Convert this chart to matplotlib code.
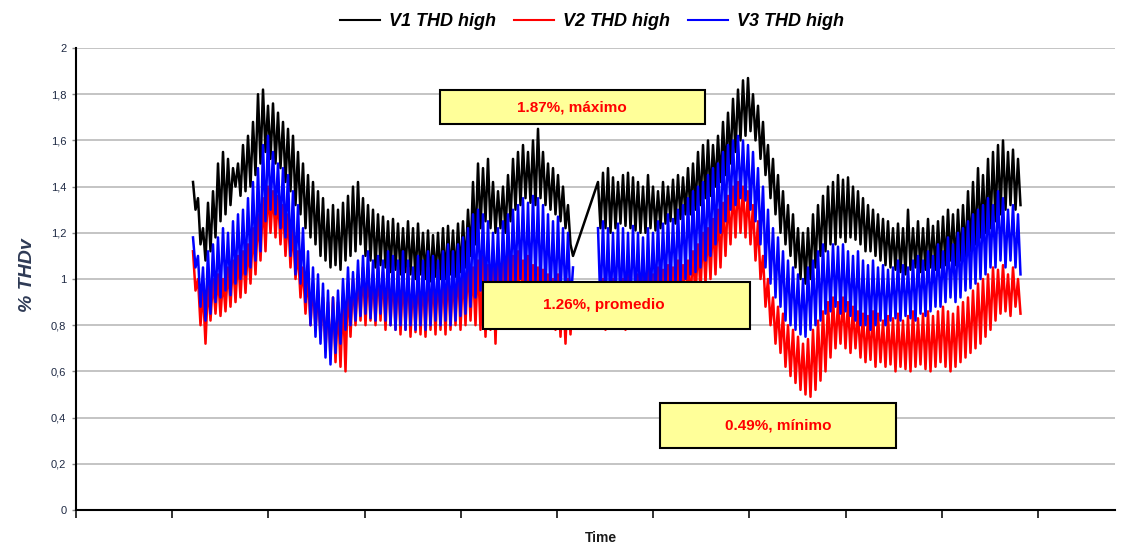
import numpy as np
import matplotlib
matplotlib.use("Agg")
import matplotlib.pyplot as plt
from matplotlib.patches import Rectangle

# ---- data: one reading every ~2.5 px of the time axis ----
nan = float("nan")
v1_thd = [1.42, 1.30, 1.35, 1.15, 1.22, 1.08, 1.33, 1.12, 1.38, 1.18,
          1.50, 1.25, 1.55, 1.28, 1.52, 1.32, 1.48, 1.40, 1.50, 1.36,
          1.58, 1.38, 1.62, 1.40, 1.68, 1.45, 1.80, 1.50, 1.82, 1.55,
          1.75, 1.52, 1.76, 1.50, 1.72, 1.48, 1.68, 1.42, 1.65, 1.38,
          1.62, 1.32, 1.55, 1.28, 1.50, 1.22, 1.45, 1.18, 1.42, 1.15,
          1.38, 1.10, 1.35, 1.08, 1.30, 1.05, 1.32, 1.06, 1.30, 1.04,
          1.33, 1.08, 1.36, 1.10, 1.40, 1.12, 1.42, 1.15, 1.35, 1.10,
          1.32, 1.08, 1.30, 1.05, 1.28, 1.06, 1.27, 1.05, 1.25, 1.03,
          1.26, 1.04, 1.24, 1.02, 1.22, 1.03, 1.25, 1.02, 1.22, 1.00,
          1.24, 1.02, 1.20, 1.00, 1.21, 0.99, 1.19, 1.01, 1.20, 1.00,
          1.22, 1.00, 1.23, 1.02, 1.21, 1.01, 1.24, 1.03, 1.25, 1.05,
          1.30, 1.10, 1.42, 1.15, 1.50, 1.22, 1.48, 1.25, 1.52, 1.22,
          1.42, 1.20, 1.38, 1.22, 1.40, 1.20, 1.45, 1.25, 1.52, 1.30,
          1.55, 1.32, 1.58, 1.35, 1.55, 1.33, 1.60, 1.32, 1.65, 1.35,
          1.55, 1.32, 1.50, 1.30, 1.48, 1.28, 1.45, 1.25, 1.40, 1.22,
          1.32, 1.15, 1.10, nan, nan, nan, nan, nan, nan, nan,
          nan, nan, 1.42, 1.22, 1.46, 1.22, 1.48, 1.20, 1.44, 1.22,
          1.42, 1.24, 1.45, 1.23, 1.46, 1.22, 1.44, 1.21, 1.42, 1.20,
          1.40, 1.20, 1.45, 1.22, 1.40, 1.21, 1.38, 1.22, 1.42, 1.24,
          1.40, 1.25, 1.43, 1.24, 1.45, 1.26, 1.44, 1.28, 1.48, 1.28,
          1.50, 1.30, 1.55, 1.32, 1.58, 1.35, 1.60, 1.36, 1.58, 1.40,
          1.62, 1.42, 1.68, 1.45, 1.72, 1.50, 1.78, 1.55, 1.82, 1.60,
          1.86, 1.62, 1.87, 1.64, 1.80, 1.60, 1.75, 1.52, 1.68, 1.45,
          1.58, 1.35, 1.52, 1.28, 1.45, 1.20, 1.38, 1.15, 1.32, 1.10,
          1.28, 1.05, 1.22, 1.00, 1.20, 0.98, 1.22, 1.00, 1.28, 1.05,
          1.32, 1.10, 1.36, 1.12, 1.40, 1.15, 1.42, 1.15, 1.45, 1.18,
          1.43, 1.16, 1.44, 1.18, 1.40, 1.17, 1.38, 1.15, 1.35, 1.12,
          1.32, 1.12, 1.30, 1.10, 1.28, 1.08, 1.26, 1.06, 1.25, 1.05,
          1.22, 1.04, 1.24, 1.03, 1.22, 1.02, 1.30, 1.04, 1.22, 1.05,
          1.25, 1.03, 1.22, 1.04, 1.26, 1.05, 1.23, 1.04, 1.25, 1.05,
          1.27, 1.06, 1.30, 1.08, 1.28, 1.06, 1.30, 1.08, 1.32, 1.10,
          1.38, 1.12, 1.42, 1.15, 1.48, 1.18, 1.45, 1.20, 1.52, 1.22,
          1.55, 1.25, 1.58, 1.28, 1.60, 1.30, 1.55, 1.32, 1.56, 1.30,
          1.52, 1.32]

v2_thd = [1.12, 0.95, 1.00, 0.80, 0.95, 0.72, 0.98, 0.82, 1.00, 0.85,
          1.02, 0.84, 1.00, 0.86, 1.05, 0.88, 1.08, 0.90, 1.10, 0.92,
          1.12, 0.94, 1.15, 0.98, 1.22, 1.02, 1.28, 1.08, 1.35, 1.12,
          1.40, 1.20, 1.38, 1.18, 1.36, 1.15, 1.32, 1.10, 1.28, 1.05,
          1.22, 1.00, 1.12, 0.92, 1.05, 0.85, 1.02, 0.80, 0.98, 0.78,
          0.95, 0.75, 0.92, 0.70, 0.90, 0.66, 0.92, 0.64, 0.90, 0.62,
          0.92, 0.60, 0.98, 0.75, 1.00, 0.80, 1.02, 0.82, 1.05, 0.80,
          1.04, 0.82, 1.02, 0.80, 1.05, 0.82, 1.03, 0.78, 1.05, 0.80,
          1.02, 0.78, 1.04, 0.76, 1.02, 0.78, 1.05, 0.75, 1.00, 0.77,
          1.03, 0.76, 1.02, 0.75, 1.05, 0.78, 1.02, 0.76, 1.04, 0.78,
          1.03, 0.76, 1.05, 0.78, 1.02, 0.80, 1.06, 0.78, 1.04, 0.80,
          1.08, 0.82, 1.05, 0.80, 1.08, 0.78, 1.10, 0.75, 1.06, 0.78,
          1.08, 0.72, 1.10, 0.80, 1.08, 0.82, 1.12, 0.80, 1.10, 0.82,
          1.12, 0.84, 1.08, 0.82, 1.10, 0.80, 1.06, 0.82, 1.05, 0.80,
          1.04, 0.82, 1.02, 0.80, 1.00, 0.78, 1.02, 0.75, 0.98, 0.72,
          1.00, 0.76, 0.95, nan, nan, nan, nan, nan, nan, nan,
          nan, nan, 0.98, 0.80, 1.00, 0.78, 0.98, 0.80, 1.00, 0.82,
          0.96, 0.80, 1.00, 0.78, 1.02, 0.80, 0.98, 0.82, 1.02, 0.80,
          1.04, 0.82, 1.05, 0.80, 1.02, 0.82, 1.05, 0.84, 1.04, 0.82,
          1.06, 0.85, 1.05, 0.86, 1.08, 0.85, 1.06, 0.88, 1.08, 0.90,
          1.12, 0.92, 1.15, 0.95, 1.20, 0.98, 1.22, 1.00, 1.26, 1.02,
          1.30, 1.05, 1.33, 1.10, 1.36, 1.15, 1.40, 1.18, 1.42, 1.20,
          1.40, 1.18, 1.38, 1.15, 1.32, 1.08, 1.25, 1.00, 1.10, 0.88,
          1.00, 0.80, 0.92, 0.72, 0.88, 0.68, 0.85, 0.62, 0.80, 0.58,
          0.78, 0.55, 0.75, 0.52, 0.72, 0.50, 0.74, 0.49, 0.78, 0.52,
          0.82, 0.56, 0.86, 0.60, 0.90, 0.66, 0.92, 0.70, 0.90, 0.72,
          0.92, 0.70, 0.90, 0.68, 0.88, 0.70, 0.86, 0.66, 0.85, 0.64,
          0.84, 0.65, 0.86, 0.62, 0.85, 0.64, 0.82, 0.62, 0.84, 0.63,
          0.83, 0.60, 0.85, 0.62, 0.82, 0.61, 0.84, 0.60, 0.86, 0.62,
          0.83, 0.63, 0.85, 0.61, 0.86, 0.60, 0.84, 0.62, 0.86, 0.64,
          0.88, 0.62, 0.86, 0.60, 0.85, 0.62, 0.88, 0.64, 0.90, 0.66,
          0.92, 0.68, 0.95, 0.70, 0.98, 0.72, 1.00, 0.75, 1.02, 0.78,
          1.05, 0.82, 1.04, 0.85, 1.06, 0.86, 1.02, 0.84, 1.05, 0.88,
          1.00, 0.85]

v3_thd = [1.18, 1.05, 1.10, 0.88, 1.05, 0.82, 1.12, 0.85, 1.15, 0.90,
          1.18, 0.92, 1.22, 0.95, 1.20, 0.93, 1.25, 0.98, 1.28, 1.00,
          1.30, 1.02, 1.35, 1.05, 1.42, 1.08, 1.48, 1.12, 1.58, 1.25,
          1.62, 1.30, 1.55, 1.28, 1.50, 1.22, 1.48, 1.18, 1.45, 1.10,
          1.38, 1.02, 1.32, 0.98, 1.22, 0.90, 1.12, 0.80, 1.05, 0.75,
          1.02, 0.72, 0.98, 0.66, 0.95, 0.63, 0.92, 0.68, 0.95, 0.72,
          1.00, 0.78, 1.05, 0.80, 1.03, 0.82, 1.08, 0.84, 1.10, 0.85,
          1.12, 0.83, 1.08, 0.82, 1.10, 0.85, 1.08, 0.82, 1.12, 0.80,
          1.10, 0.78, 1.08, 0.80, 1.12, 0.78, 1.08, 0.80, 1.05, 0.78,
          1.10, 0.80, 1.08, 0.78, 1.12, 0.80, 1.10, 0.82, 1.08, 0.80,
          1.12, 0.82, 1.15, 0.80, 1.12, 0.82, 1.15, 0.84, 1.18, 0.85,
          1.22, 0.88, 1.28, 0.92, 1.30, 0.95, 1.28, 0.92, 1.25, 0.90,
          1.20, 0.92, 1.22, 0.90, 1.25, 0.93, 1.28, 0.95, 1.30, 0.98,
          1.32, 1.00, 1.35, 0.98, 1.33, 0.96, 1.36, 0.98, 1.35, 0.95,
          1.32, 0.94, 1.28, 0.92, 1.25, 0.90, 1.27, 0.92, 1.22, 0.90,
          1.20, 0.88, 1.05, nan, nan, nan, nan, nan, nan, nan,
          nan, nan, 1.22, 0.88, 1.25, 0.86, 1.22, 0.85, 1.20, 0.88,
          1.24, 0.86, 1.22, 0.85, 1.20, 0.86, 1.23, 0.88, 1.20, 0.86,
          1.18, 0.85, 1.22, 0.88, 1.20, 0.90, 1.25, 0.92, 1.24, 0.95,
          1.28, 0.96, 1.26, 0.98, 1.30, 0.98, 1.32, 1.00, 1.35, 1.02,
          1.38, 1.03, 1.40, 1.05, 1.42, 1.08, 1.45, 1.10, 1.48, 1.15,
          1.50, 1.20, 1.55, 1.25, 1.58, 1.30, 1.60, 1.32, 1.62, 1.35,
          1.60, 1.34, 1.58, 1.30, 1.55, 1.25, 1.48, 1.15, 1.40, 1.05,
          1.30, 0.98, 1.22, 0.92, 1.18, 0.88, 1.12, 0.82, 1.08, 0.80,
          1.05, 0.78, 1.02, 0.76, 1.00, 0.75, 1.05, 0.78, 1.08, 0.80,
          1.12, 0.82, 1.15, 0.85, 1.12, 0.86, 1.15, 0.88, 1.14, 0.85,
          1.15, 0.86, 1.12, 0.84, 1.10, 0.82, 1.12, 0.80, 1.08, 0.80,
          1.06, 0.78, 1.08, 0.80, 1.05, 0.82, 1.06, 0.80, 1.04, 0.82,
          1.05, 0.83, 1.08, 0.82, 1.06, 0.84, 1.05, 0.83, 1.08, 0.82,
          1.10, 0.85, 1.08, 0.84, 1.12, 0.86, 1.10, 0.88, 1.15, 0.88,
          1.12, 0.90, 1.18, 0.92, 1.15, 0.90, 1.20, 0.92, 1.22, 0.95,
          1.25, 0.96, 1.28, 0.98, 1.30, 1.00, 1.32, 1.02, 1.35, 1.05,
          1.32, 1.05, 1.38, 1.08, 1.35, 1.05, 1.30, 1.08, 1.32, 1.05,
          1.28, 1.02]

series_names = ["V1 THD high", "V2 THD high", "V3 THD high"]
series_colors = ["#000000", "#FF0000", "#0000FF"]
y_ticks = [0, 0.2, 0.4, 0.6, 0.8, 1.0, 1.2, 1.4, 1.6, 1.8, 2.0]
y_tick_labels = ["0", "0,2", "0,4", "0,6", "0,8", "1", "1,2", "1,4", "1,6", "1,8", "2"]
notes = ["1.87%, máximo", "1.26%, promedio", "0.49%, mínimo"]

# ---- figure ----
W, H = 1130, 548
fig = plt.figure(figsize=(W / 100, H / 100), dpi=100)
plt.rcParams["font.family"] = ["Liberation Sans", "DejaVu Sans"]

def fx(px):
    return px / W

def fy(py):
    return 1 - py / H

ax = fig.add_axes([fx(76), fy(510), fx(1115) - fx(76), fy(48) - fy(510)])

t = np.arange(len(v1_thd))
step_px = 2.5
x0_px = 193
left = (76 - x0_px) / step_px
right = (1115 - x0_px) / step_px

a1 = np.array(v1_thd)
m1 = np.isfinite(a1)
ax.plot(t[m1], a1[m1], color=series_colors[0], lw=1.8, label=series_names[0], zorder=3)
ax.plot(t, v2_thd, color=series_colors[1], lw=1.8, label=series_names[1], zorder=4)
ax.plot(t, v3_thd, color=series_colors[2], lw=1.8, label=series_names[2], zorder=5)

ax.set_xlim(left, right)
ax.set_ylim(0, 2)
ax.set_yticks(y_ticks)
ax.set_yticklabels(y_tick_labels)
tick_spacing = 96.2 / step_px
ax.set_xticks([left + k * tick_spacing for k in range(11)])
ax.set_xticklabels([])
ax.grid(axis="y", color="#BFBFBF", lw=1.3)
ax.set_axisbelow(True)
for s in ["top", "right"]:
    ax.spines[s].set_visible(False)
ax.spines["left"].set_linewidth(1.5)
ax.spines["bottom"].set_linewidth(1.5)
ax.tick_params(axis="x", direction="out", length=6, width=1.3, color="#222222")
ax.tick_params(axis="y", direction="out", length=3, width=1.0, color="#888888",
               labelsize=8, labelcolor="#1F2A44", pad=4)

fig.text(fx(28), fy(275), "% THDv", rotation=90, ha="center", va="center",
         fontsize=14, fontweight="bold", fontstyle="italic", color="#2E3A55")
fig.text(fx(601), fy(538), "Time", ha="center", va="center", fontsize=10,
         fontweight="bold", color="#1A1A1A")

leg = fig.legend(loc="center", bbox_to_anchor=(fx(592), fy(22)), ncol=3, frameon=False,
                 prop={"weight": "bold", "style": "italic", "size": 13},
                 handlelength=2.2, columnspacing=1.0, handletextpad=0.5)
for line in leg.get_lines():
    line.set_linewidth(1.5)

boxes = [(440, 90, 705, 124, 572), (483, 282, 750, 329, 604), (660, 403, 896, 448, 778)]
for (x1, y1, x2, y2, tx), note in zip(boxes, notes):
    r = Rectangle((fx(x1), fy(y2)), fx(x2) - fx(x1), fy(y1) - fy(y2), transform=fig.transFigure,
                  facecolor="#FFFF99", edgecolor="#000000", lw=1.5, zorder=10)
    fig.add_artist(r)
    fig.text(fx(tx), (fy(y1) + fy(y2)) / 2, note, ha="center", va="center", fontsize=11,
             fontweight="bold", color="#FF0000", zorder=11)

fig.savefig("out.png", dpi=100)
